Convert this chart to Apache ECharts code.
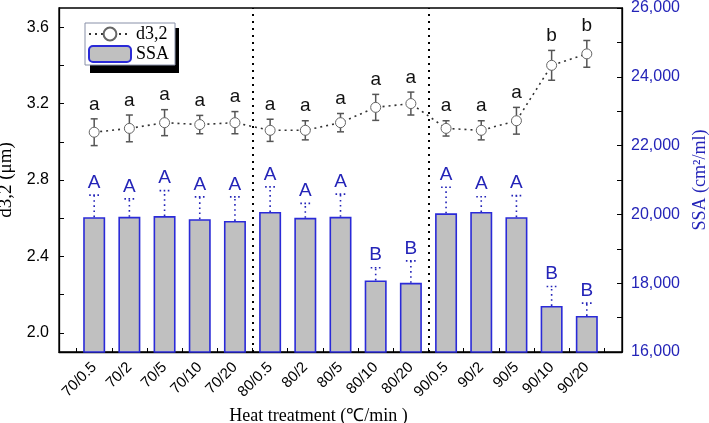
<!DOCTYPE html>
<html>
<head>
<meta charset="utf-8">
<script src="https://cdn.jsdelivr.net/npm/echarts@6/dist/echarts.min.js"></script>
<style>html,body{margin:0;padding:0;background:#fff;}#c{width:709px;height:423px;}</style>
</head>
<body>
<div id="c"></div>
<script>
const categories = ['70/0.5','70/2','70/5','70/10','70/20','80/0.5','80/2','80/5','80/10','80/20','90/0.5','90/2','90/5','90/10','90/20'];
const d32 = [3.05,3.07,3.10,3.09,3.10,3.06,3.06,3.10,3.18,3.20,3.07,3.06,3.11,3.40,3.46];
const d32Err = [0.07,0.07,0.068,0.048,0.058,0.058,0.05,0.048,0.068,0.06,0.04,0.05,0.07,0.078,0.07];
const d32Letters = ['a','a','a','a','a','a','a','a','a','a','a','a','a','b','b'];
const ssa = [19920,19930,19950,19860,19810,20070,19900,19930,18080,18010,20030,20070,19920,17340,17050];
const ssaErr = [640,520,740,650,700,730,420,660,370,640,760,445,625,565,370];
const ssaLetters = ['A','A','A','A','A','A','A','A','B','B','A','A','A','B','B'];
const leftLabels = [2.0,2.4,2.8,3.2,3.6];
const leftTicks = [2.0,2.2,2.4,2.6,2.8,3.0,3.2,3.4,3.6];
const rightTicks = [16000,17000,18000,19000,20000,21000,22000,23000,24000,25000,26000];
const groupSeparators = [5.5,10.5];

const BLUE = '#2424b8';
const SANS = 'Liberation Sans, Arial, sans-serif';
const SERIF = 'Liberation Serif, Times New Roman, serif';

const xPos = categories.map((c,i)=>i+1);
const xTicks = categories.map((c,i)=>i+0.5).concat([categories.length+0.5]);

const chart = echarts.init(document.getElementById('c'), null, {renderer:'canvas'});
chart.setOption({
  animation: false,
  backgroundColor: '#fff',
  grid: {left:59, right:87, top:8, bottom:71, containLabel:false, outerBoundsMode:'none',
    show:true, borderColor:'#000', borderWidth:1.3, backgroundColor:'transparent'},
  graphic: [
    {type:'rect', left:90, top:28, shape:{width:89, height:45}, style:{fill:'#000'}, z:1, silent:true}
  ],
  legend: {
    orient:'vertical', left:85, top:23, padding:[2,6,2,3], itemGap:2,
    itemWidth:42, itemHeight:16, z:10,
    backgroundColor:'#fff', borderColor:'#8890a8', borderWidth:1,
    textStyle:{fontFamily:SERIF, fontSize:18, color:'#000'},
    data:['d3,2','SSA']
  },
  xAxis: {
    type:'value', min:0, max:categories.length+1,
    name:'Heat treatment (℃/min )', nameLocation:'middle', nameGap:48,
    nameTextStyle:{fontFamily:SERIF, fontSize:18, color:'#000', padding:[0,44,0,0]},
    axisLine:{lineStyle:{color:'#000', width:1.3}},
    axisTick:{inside:true, length:4, customValues:xTicks, lineStyle:{color:'#000'}},
    axisLabel:{customValues:xPos, rotate:45, margin:13, fontFamily:SANS, fontSize:15, color:'#000',
      formatter: v => categories[Math.round(v)-1] || ''},
    splitLine:{show:false}
  },
  yAxis: [
    {
      type:'value', min:1.9, max:3.7, position:'left',
      name:'d3,2 (μm)', nameLocation:'middle', nameGap:37, nameRotate:90,
      nameTextStyle:{fontFamily:SERIF, fontSize:19, color:'#000'},
      axisLine:{show:true, lineStyle:{color:'#000', width:1.3}},
      axisTick:{inside:true, length:5, customValues:leftTicks, lineStyle:{color:'#000'}},
      axisLabel:{customValues:leftLabels, margin:10, fontFamily:SANS, fontSize:16, color:'#000', formatter:v=>v.toFixed(1)},
      splitLine:{show:false}
    },
    {
      type:'value', min:16000, max:26000, interval:2000, position:'right',
      name:'SSA (cm²/ml)', nameLocation:'middle', nameGap:66, nameRotate:90,
      nameTextStyle:{fontFamily:SERIF, fontSize:18, color:BLUE},
      axisLine:{show:true, lineStyle:{color:'#000', width:1.3}},
      axisTick:{inside:true, length:5, customValues:rightTicks, lineStyle:{color:'#000'}},
      axisLabel:{margin:9, fontFamily:SANS, fontSize:16, color:BLUE, formatter:v=>v.toLocaleString('en-US')},
      splitLine:{show:false}
    }
  ],
  series: [
    {
      name:'SSA', type:'bar', yAxisIndex:1, barWidth:22, z:2,
      data: categories.map((c,i)=>[i+1, ssa[i]]),
      itemStyle:{color:'#c0c0c0', borderColor:'#2a2ad8', borderWidth:1.6},
      markLine:{
        silent:true, symbol:'none', label:{show:false},
        lineStyle:{type:[2,5], color:'#000', width:2},
        data: groupSeparators.map(v=>({xAxis:v}))
      }
    },
    {
      name:'ssaErr', type:'custom', yAxisIndex:1, z:3,
      data: categories.map((c,i)=>[i+1, ssa[i], ssaErr[i]]),
      encode:{x:0, y:1},
      renderItem:(params, api)=>{
        const x = api.value(0), v = api.value(1), e = api.value(2);
        const b = api.coord([x, v]), t = api.coord([x, v+e]);
        const st = {stroke:BLUE, lineWidth:1.6, lineDash:[1.6,3.5]};
        return {type:'group', children:[
          {type:'line', shape:{x1:b[0], y1:b[1], x2:t[0], y2:t[1]}, style:st},
          {type:'line', shape:{x1:t[0]-5, y1:t[1], x2:t[0]+5, y2:t[1]}, style:{stroke:BLUE, lineWidth:1.6, lineDash:[1.6,2.5]}},
          {type:'text', style:{text:ssaLetters[params.dataIndex], x:t[0], y:t[1]-3, align:'center', verticalAlign:'bottom',
            font:'19px '+SANS, fill:BLUE}}
        ]};
      }
    },
    {
      name:'d32Err', type:'custom', yAxisIndex:0, z:4,
      data: categories.map((c,i)=>[i+1, d32[i], d32Err[i]]),
      encode:{x:0, y:1},
      renderItem:(params, api)=>{
        const x = api.value(0), v = api.value(1), e = api.value(2);
        const t = api.coord([x, v+e]), b = api.coord([x, v-e]);
        const st = {stroke:'#555', lineWidth:1.5};
        return {type:'group', children:[
          {type:'line', shape:{x1:t[0], y1:t[1], x2:b[0], y2:b[1]}, style:st},
          {type:'line', shape:{x1:t[0]-3.5, y1:t[1], x2:t[0]+3.5, y2:t[1]}, style:st},
          {type:'line', shape:{x1:b[0]-3.5, y1:b[1], x2:b[0]+3.5, y2:b[1]}, style:st},
          {type:'text', style:{text:d32Letters[params.dataIndex], x:t[0], y:t[1]-5, align:'center', verticalAlign:'bottom',
            font:'19px '+SANS, fill:'#111'}}
        ]};
      }
    },
    {
      name:'d3,2', type:'line', yAxisIndex:0, z:5,
      data: categories.map((c,i)=>[i+1, d32[i]]),
      symbol:'circle', symbolSize:10, showSymbol:true,
      lineStyle:{type:[2,4], color:'#333', width:1.6},
      itemStyle:{color:'#fff', borderColor:'#666', borderWidth:1}
    }
  ]
});
</script>
</body>
</html>
